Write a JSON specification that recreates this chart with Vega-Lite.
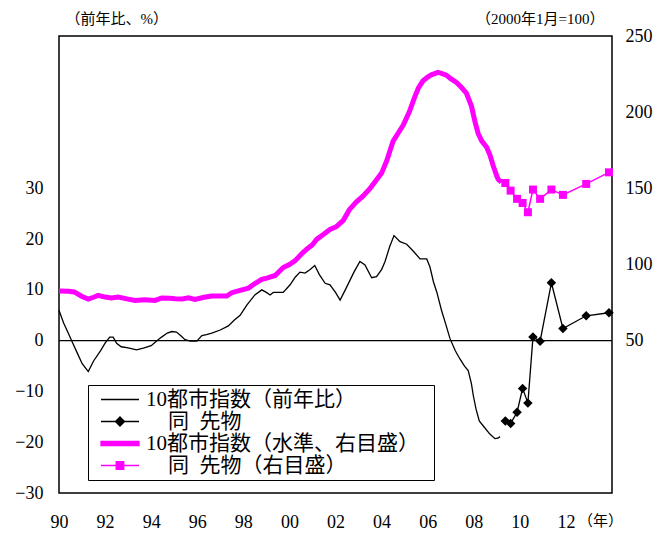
{
  "$schema": "https://vega.github.io/schema/vega-lite/v6.json",
  "width": 553,
  "height": 457,
  "autosize": "none",
  "padding": {"left": 59, "top": 36, "right": 60, "bottom": 43},
  "background": "white",
  "config": {
    "view": {"stroke": "black", "strokeWidth": 1.5},
    "font": "Liberation Serif, Noto Sans CJK JP",
    "axis": {
      "grid": false, "domain": false, "ticks": false, "tickSize": 0, "labelOverlap": false, "labelFlush": false,
      "labelFont": "Liberation Serif, Noto Sans CJK JP", "labelFontSize": 18, "labelColor": "black",
      "titleFont": "Liberation Serif, Noto Sans CJK JP", "titleFontSize": 15, "titleFontWeight": "normal", "titleColor": "black"
    }
  },
  "datasets": {
    "yoy": [
      {"s":"A","t":1990.0,"v":6.0},{"s":"A","t":1990.2,"v":3.5},{"s":"A","t":1990.4,"v":1.5},{"s":"A","t":1990.55,"v":0},
      {"s":"A","t":1990.8,"v":-2.5},{"s":"A","t":1991.0,"v":-4.5},{"s":"A","t":1991.27,"v":-6.1},{"s":"A","t":1991.5,"v":-4},
      {"s":"A","t":1991.8,"v":-2},{"s":"A","t":1992.0,"v":-0.5},{"s":"A","t":1992.2,"v":0.7},{"s":"A","t":1992.35,"v":0.7},
      {"s":"A","t":1992.5,"v":-0.5},{"s":"A","t":1992.7,"v":-1.2},{"s":"A","t":1993.0,"v":-1.4},{"s":"A","t":1993.37,"v":-1.8},
      {"s":"A","t":1993.7,"v":-1.4},{"s":"A","t":1994.0,"v":-1.0},{"s":"A","t":1994.2,"v":-0.2},{"s":"A","t":1994.45,"v":0.7},
      {"s":"A","t":1994.7,"v":1.5},{"s":"A","t":1994.9,"v":1.8},{"s":"A","t":1995.1,"v":1.7},{"s":"A","t":1995.3,"v":0.9},
      {"s":"A","t":1995.47,"v":0.2},{"s":"A","t":1995.7,"v":-0.1},{"s":"A","t":1995.98,"v":-0.1},{"s":"A","t":1996.2,"v":1.0},
      {"s":"A","t":1996.4,"v":1.2},{"s":"A","t":1996.63,"v":1.5},{"s":"A","t":1997.0,"v":2.1},{"s":"A","t":1997.35,"v":2.9},
      {"s":"A","t":1997.6,"v":4.0},{"s":"A","t":1997.86,"v":5.0},{"s":"A","t":1998.15,"v":7.0},{"s":"A","t":1998.5,"v":9.0},
      {"s":"A","t":1998.8,"v":10.0},{"s":"A","t":1999.0,"v":9.5},{"s":"A","t":1999.16,"v":9.0},{"s":"A","t":1999.3,"v":9.5},
      {"s":"A","t":1999.73,"v":9.5},{"s":"A","t":2000.03,"v":11.0},{"s":"A","t":2000.25,"v":12.5},{"s":"A","t":2000.46,"v":13.5},
      {"s":"A","t":2000.68,"v":13.3},{"s":"A","t":2000.9,"v":14.0},{"s":"A","t":2001.1,"v":14.8},{"s":"A","t":2001.3,"v":13.0},
      {"s":"A","t":2001.55,"v":11.3},{"s":"A","t":2001.76,"v":11.0},{"s":"A","t":2002.0,"v":9.5},{"s":"A","t":2002.2,"v":8.0},
      {"s":"A","t":2002.49,"v":10.6},{"s":"A","t":2002.8,"v":13.5},{"s":"A","t":2003.06,"v":15.6},{"s":"A","t":2003.28,"v":14.9},
      {"s":"A","t":2003.57,"v":12.4},{"s":"A","t":2003.78,"v":12.6},{"s":"A","t":2004.0,"v":14.0},{"s":"A","t":2004.15,"v":15.6},
      {"s":"A","t":2004.35,"v":18.5},{"s":"A","t":2004.54,"v":20.7},{"s":"A","t":2004.8,"v":19.5},{"s":"A","t":2005.09,"v":19.0},
      {"s":"A","t":2005.38,"v":17.6},{"s":"A","t":2005.67,"v":16.1},{"s":"A","t":2005.96,"v":16.1},{"s":"A","t":2006.1,"v":14.5},
      {"s":"A","t":2006.25,"v":11.6},{"s":"A","t":2006.4,"v":9.5},{"s":"A","t":2006.6,"v":6.0},{"s":"A","t":2006.8,"v":3.0},
      {"s":"A","t":2006.97,"v":0.4},{"s":"A","t":2007.2,"v":-2.0},{"s":"A","t":2007.4,"v":-3.6},{"s":"A","t":2007.6,"v":-5.0},
      {"s":"A","t":2007.76,"v":-5.9},{"s":"A","t":2007.9,"v":-8.5},{"s":"A","t":2007.98,"v":-10.8},{"s":"A","t":2008.1,"v":-13.5},
      {"s":"A","t":2008.24,"v":-15.8},{"s":"A","t":2008.45,"v":-17.0},{"s":"A","t":2008.7,"v":-18.4},{"s":"A","t":2008.92,"v":-19.3},
      {"s":"A","t":2009.05,"v":-19.2},{"s":"A","t":2009.14,"v":-18.9}
    ],
    "fyoy": [
      {"s":"B","t":2009.37,"v":-15.8},{"s":"B","t":2009.6,"v":-16.3},{"s":"B","t":2009.88,"v":-14.1},{"s":"B","t":2010.12,"v":-9.4},
      {"s":"B","t":2010.35,"v":-12.3},{"s":"B","t":2010.57,"v":0.7},{"s":"B","t":2010.88,"v":-0.1},{"s":"B","t":2011.37,"v":11.4},
      {"s":"B","t":2011.87,"v":2.4},{"s":"B","t":2012.88,"v":4.9},{"s":"B","t":2013.87,"v":5.5}
    ],
    "lvl": [
      {"s":"C","t":1990.0,"v":82.6},{"s":"C","t":1990.4,"v":82.5},{"s":"C","t":1990.66,"v":82.0},{"s":"C","t":1991.0,"v":79.0},
      {"s":"C","t":1991.27,"v":77.3},{"s":"C","t":1991.5,"v":78.5},{"s":"C","t":1991.7,"v":79.7},{"s":"C","t":1992.0,"v":78.6},
      {"s":"C","t":1992.28,"v":78.0},{"s":"C","t":1992.57,"v":78.6},{"s":"C","t":1993.0,"v":77.3},{"s":"C","t":1993.3,"v":76.4},
      {"s":"C","t":1993.7,"v":76.8},{"s":"C","t":1994.17,"v":76.4},{"s":"C","t":1994.46,"v":78.0},{"s":"C","t":1994.8,"v":77.9},
      {"s":"C","t":1995.04,"v":77.5},{"s":"C","t":1995.35,"v":77.4},{"s":"C","t":1995.62,"v":78.2},{"s":"C","t":1995.9,"v":77.1},
      {"s":"C","t":1996.3,"v":78.5},{"s":"C","t":1996.63,"v":79.3},{"s":"C","t":1997.0,"v":79.3},{"s":"C","t":1997.28,"v":79.3},
      {"s":"C","t":1997.5,"v":81.5},{"s":"C","t":1997.86,"v":83.0},{"s":"C","t":1998.22,"v":84.5},{"s":"C","t":1998.5,"v":87.5},
      {"s":"C","t":1998.8,"v":90.2},{"s":"C","t":1999.02,"v":91.1},{"s":"C","t":1999.38,"v":92.8},{"s":"C","t":1999.73,"v":98.0},
      {"s":"C","t":2000.0,"v":100.0},{"s":"C","t":2000.25,"v":102.5},{"s":"C","t":2000.53,"v":107.0},{"s":"C","t":2000.75,"v":110.0},
      {"s":"C","t":2001.0,"v":113.0},{"s":"C","t":2001.18,"v":116.5},{"s":"C","t":2001.5,"v":120.0},{"s":"C","t":2001.76,"v":123.0},
      {"s":"C","t":2002.05,"v":125.0},{"s":"C","t":2002.34,"v":129.0},{"s":"C","t":2002.6,"v":136.0},{"s":"C","t":2002.9,"v":141.0},
      {"s":"C","t":2003.2,"v":145.0},{"s":"C","t":2003.5,"v":150.0},{"s":"C","t":2003.75,"v":155.0},{"s":"C","t":2004.0,"v":160.0},
      {"s":"C","t":2004.22,"v":168.0},{"s":"C","t":2004.5,"v":181.0},{"s":"C","t":2004.75,"v":187.0},{"s":"C","t":2004.94,"v":191.5},
      {"s":"C","t":2005.2,"v":200.0},{"s":"C","t":2005.44,"v":210.0},{"s":"C","t":2005.6,"v":216.0},{"s":"C","t":2005.8,"v":220.6},
      {"s":"C","t":2006.0,"v":223.0},{"s":"C","t":2006.16,"v":224.5},{"s":"C","t":2006.45,"v":226.1},{"s":"C","t":2006.6,"v":225.5},
      {"s":"C","t":2006.81,"v":224.3},{"s":"C","t":2007.0,"v":222.0},{"s":"C","t":2007.25,"v":219.5},{"s":"C","t":2007.45,"v":216.5},
      {"s":"C","t":2007.68,"v":212.5},{"s":"C","t":2007.9,"v":204.0},{"s":"C","t":2008.05,"v":194.0},{"s":"C","t":2008.19,"v":186.0},
      {"s":"C","t":2008.35,"v":181.0},{"s":"C","t":2008.56,"v":177.0},{"s":"C","t":2008.7,"v":172.0},{"s":"C","t":2008.84,"v":165.0},
      {"s":"C","t":2009.0,"v":158.0},{"s":"C","t":2009.06,"v":156.0},{"s":"C","t":2009.2,"v":154.0}
    ],
    "flvl": [
      {"s":"D","t":2009.37,"v":153.5},{"s":"D","t":2009.6,"v":148.5},{"s":"D","t":2009.88,"v":143.1},{"s":"D","t":2010.12,"v":140.4},
      {"s":"D","t":2010.35,"v":134.3},{"s":"D","t":2010.57,"v":149.2},{"s":"D","t":2010.88,"v":143.1},{"s":"D","t":2011.37,"v":149.2},
      {"s":"D","t":2011.87,"v":145.7},{"s":"D","t":2012.88,"v":152.9},{"s":"D","t":2013.87,"v":160.5}
    ],
    "zero": [{"v": 0}]
  },
  "layer": [
    {
      "layer": [
        {
          "data": {"name": "zero"},
          "mark": {"type": "rule", "color": "black", "strokeWidth": 1.3},
          "encoding": {
            "y": {"field": "v", "type": "quantitative", "scale": {"domain": [-30, 60], "nice": false, "zero": false},
                  "axis": {"values": [-30, -20, -10, 0, 10, 20, 30], "title": "（前年比、%）", "titleAngle": 0, "titleAlign": "left", "titleBaseline": "middle", "titleX": 6, "titleY": -18, "labelPadding": 16}}
          }
        },
        {
          "data": {"name": "yoy"},
          "mark": {"type": "line", "strokeWidth": 1.3},
          "encoding": {
            "x": {"field": "t", "type": "quantitative", "scale": {"domain": [1990, 2014], "nice": false, "zero": false},
                  "axis": {"values": [1990, 1992, 1994, 1996, 1998, 2000, 2002, 2004, 2006, 2008, 2010, 2012, 2014], "title": null, "labelPadding": 20,
                           "labelExpr": "datum.value == 2014 ? '（年）' : format(datum.value % 100, '02d')",
                           "labelFontSize": {"condition": {"test": "datum.value == 2014", "value": 15}, "value": 18},
                           "labelOffset": {"condition": {"test": "datum.value == 2014", "value": -12}, "value": 0}}},
            "y": {"field": "v", "type": "quantitative", "scale": {"domain": [-30, 60], "nice": false, "zero": false},
                  "axis": {"values": [-30, -20, -10, 0, 10, 20, 30], "title": "（前年比、%）", "titleAngle": 0, "titleAlign": "left", "titleBaseline": "middle", "titleX": 6, "titleY": -18, "labelPadding": 16}},
            "color": {"field": "s", "type": "nominal",
                      "scale": {"domain": ["A", "B", "C", "D"], "range": ["black", "black", "#ff00ff", "#ff00ff"]},
                      "legend": {
                        "title": null, "orient": "none", "legendX": 29, "legendY": 349,
                        "strokeColor": "black", "fillColor": "white", "padding": 4,
                        "symbolSize": 1444, "symbolOffset": 8, "labelOffset": 6, "clipHeight": 21, "rowPadding": 0,
                        "labelFont": "Liberation Serif, Noto Sans CJK JP", "labelFontSize": 21, "labelColor": "black",
                        "labelLimit": 400,
                        "labelExpr": "datum.value == 'A' ? '10都市指数（前年比）' : datum.value == 'B' ? '同\u2002先物' : datum.value == 'C' ? '10都市指数（水準、右目盛）\u3000\u200b' : '同\u2002先物（右目盛）'",
                        "encoding": {
                          "symbols": {
                            "shape": {"value": {"expr": "datum.value == 'A' ? 'M-1,0L1,0' : datum.value == 'B' ? 'M-1,0L1,0M0,-0.24L0.24,0L0,0.24L-0.24,0Z' : datum.value == 'C' ? 'M-1,-0.11L1,-0.11L1,0.11L-1,0.11Z' : 'M-1,0L1,0M-0.2,-0.2L0.2,-0.2L0.2,0.2L-0.2,0.2Z'"}},
                            "fill": {"value": {"expr": "(datum.value == 'A' || datum.value == 'B') ? 'black' : '#ff00ff'"}},
                            "stroke": {"value": {"expr": "(datum.value == 'A' || datum.value == 'B') ? 'black' : '#ff00ff'"}},
                            "strokeWidth": {"value": 1.3},
                            "opacity": {"value": 1}
                          },
                          "labels": {
                            "dx": {"value": {"expr": "(datum.value == 'B' || datum.value == 'D') ? 22 : 0"}}
                          }
                        }
                      }}
          }
        },
        {
          "data": {"name": "fyoy"},
          "mark": {"type": "line", "strokeWidth": 1.3},
          "encoding": {
            "x": {"field": "t", "type": "quantitative", "scale": {"domain": [1990, 2014], "nice": false, "zero": false}},
            "y": {"field": "v", "type": "quantitative", "scale": {"domain": [-30, 60], "nice": false, "zero": false}},
            "color": {"field": "s", "type": "nominal", "scale": {"domain": ["A", "B", "C", "D"], "range": ["black", "black", "#ff00ff", "#ff00ff"]}}
          }
        },
        {
          "data": {"name": "fyoy"},
          "mark": {"type": "point", "shape": "diamond", "filled": true, "size": 90, "opacity": 1},
          "encoding": {
            "x": {"field": "t", "type": "quantitative", "scale": {"domain": [1990, 2014], "nice": false, "zero": false}},
            "y": {"field": "v", "type": "quantitative", "scale": {"domain": [-30, 60], "nice": false, "zero": false}},
            "color": {"field": "s", "type": "nominal", "scale": {"domain": ["A", "B", "C", "D"], "range": ["black", "black", "#ff00ff", "#ff00ff"]}}
          }
        }
      ]
    },
    {
      "layer": [
        {
          "data": {"name": "lvl"},
          "mark": {"type": "line", "strokeWidth": 5},
          "encoding": {
            "x": {"field": "t", "type": "quantitative", "scale": {"domain": [1990, 2014], "nice": false, "zero": false}},
            "y": {"field": "v", "type": "quantitative", "scale": {"domain": [-50, 250], "nice": false, "zero": false},
                  "axis": {"orient": "right", "values": [50, 100, 150, 200, 250], "title": "（2000年1月=100）", "titleAngle": 0, "titleAlign": "right", "titleBaseline": "middle", "titleX": -8, "titleY": -18, "labelPadding": 13}},
            "color": {"field": "s", "type": "nominal", "scale": {"domain": ["A", "B", "C", "D"], "range": ["black", "black", "#ff00ff", "#ff00ff"]}}
          }
        },
        {
          "data": {"name": "flvl"},
          "mark": {"type": "line", "strokeWidth": 1.5},
          "encoding": {
            "x": {"field": "t", "type": "quantitative", "scale": {"domain": [1990, 2014], "nice": false, "zero": false}},
            "y": {"field": "v", "type": "quantitative", "scale": {"domain": [-50, 250], "nice": false, "zero": false}},
            "color": {"field": "s", "type": "nominal", "scale": {"domain": ["A", "B", "C", "D"], "range": ["black", "black", "#ff00ff", "#ff00ff"]}}
          }
        },
        {
          "data": {"name": "flvl"},
          "mark": {"type": "point", "shape": "square", "filled": true, "size": 64, "opacity": 1},
          "encoding": {
            "x": {"field": "t", "type": "quantitative", "scale": {"domain": [1990, 2014], "nice": false, "zero": false}},
            "y": {"field": "v", "type": "quantitative", "scale": {"domain": [-50, 250], "nice": false, "zero": false}},
            "color": {"field": "s", "type": "nominal", "scale": {"domain": ["A", "B", "C", "D"], "range": ["black", "black", "#ff00ff", "#ff00ff"]}}
          }
        }
      ]
    }
  ],
  "resolve": {"scale": {"y": "independent"}}
}
